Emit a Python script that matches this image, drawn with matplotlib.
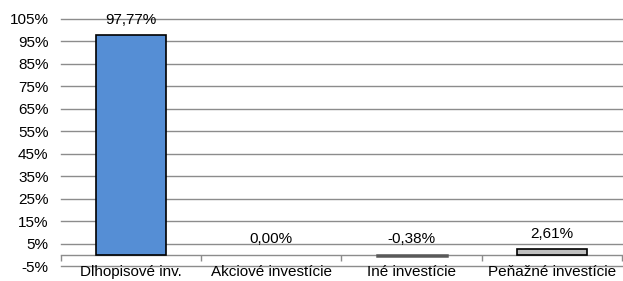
import matplotlib.pyplot as plt
import matplotlib.transforms as mtransforms
import numpy as np

plt.rcParams["font.family"] = ["Liberation Sans", "DejaVu Sans"]

categories = ["Dlhopisové inv.", "Akciové investície", "Iné investície", "Peňažné investície"]
values = [97.77, 0.00, -0.38, 2.61]
bar_colors = ["#558ED5", "#558ED5", "#8C8C8C", "#BFBFBF"]
edge_colors = ["black", "none", "#595959", "black"]
edge_widths = [1.2, 0, 1.8, 1.2]
yticks = list(range(-5, 106, 10))

fig = plt.figure(figsize=(6.23, 2.81), dpi=100)
ax = fig.add_axes([61 / 623, 1 - 266 / 281, 561 / 623, (266 - 19) / 281])

x = np.arange(len(categories))
ax.bar(x, values, width=0.5, color=bar_colors, edgecolor=edge_colors, linewidth=edge_widths, zorder=3)

ax.set_xlim(-0.5, len(categories) - 0.5)
ax.set_ylim(-5, 105)
ax.set_yticks(yticks)
ax.set_yticklabels([f"{t}%" for t in yticks], fontsize=11)
ax.tick_params(axis="y", length=0, pad=9)

for t in yticks:
    ax.axhline(t, color="#8C8C8C", linewidth=1, zorder=1, clip_on=False)

for s in ["top", "right", "left"]:
    ax.spines[s].set_visible(False)
ax.spines["bottom"].set_position(("data", 0))
ax.spines["bottom"].set_color("#8C8C8C")
ax.spines["bottom"].set_linewidth(1)
ax.set_xticks(np.arange(-0.5, len(categories), 1.0))
ax.set_xticklabels([])
ax.tick_params(axis="x", direction="out", length=4, color="#8C8C8C", width=1)

trans = mtransforms.blended_transform_factory(ax.transData, ax.transAxes)
for i, c in enumerate(categories):
    ax.text(i, 0.005, c, transform=trans, ha="center", va="top", fontsize=11)

for i, v in enumerate(values):
    ax.annotate(f"{v:.2f}%".replace(".", ","), (i, max(v, 0)), xytext=(0, 6),
                textcoords="offset points", ha="center", va="bottom", fontsize=11, zorder=4)

fig.savefig("out.png", dpi=100)
